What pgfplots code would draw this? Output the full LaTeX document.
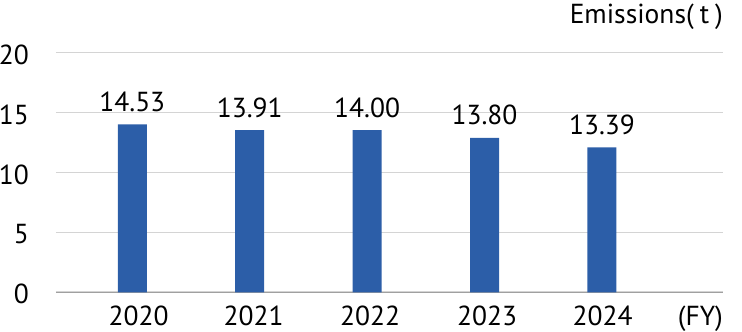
\documentclass[border=0pt]{standalone}
\usepackage{fontspec}
\setmainfont{PT Sans}
\usepackage{pgfplots}
\pgfplotsset{compat=1.18}
\definecolor{barblue}{HTML}{2C5EA8}
\definecolor{gridgray}{HTML}{D4D4D4}
\definecolor{axisgray}{HTML}{A0A0A0}
\newcommand{\lblfont}{\fontsize{27.5pt}{32pt}\selectfont}
\begin{document}
\begin{tikzpicture}
\begin{axis}[
  at={(56pt,39.7pt)}, anchor=south west,
  scale only axis, width=667pt, height=239.6pt,
  xmin=-0.650, xmax=5.031,
  ymin=0, ymax=20,
  ytick={0,5,10,15,20},
  yticklabels={0,5,10,15,20},
  xtick={0.0545,1.0340,2.0247,3.0213,4.0051},
  xticklabels={2020,2021,2022,2023,2024},
  axis lines*=left,
  y axis line style={draw=none},
  x axis line style={draw=axisgray, line width=1.2pt},
  ymajorgrids,
  grid style={draw=gridgray, line width=1.6pt},
  major tick length=0pt,
  tick style={draw=none},
  yticklabel style={font=\lblfont, anchor=east, inner sep=0pt, xshift=-27pt, yshift=-2pt},
  xticklabel style={font=\lblfont, anchor=base, inner sep=0pt, yshift=-33.5pt},
  clip=false,
]
\addplot[ybar, bar width=29pt, fill=barblue, draw=none,
  point meta=explicit symbolic,
  nodes near coords,
  every node near coord/.append style={font=\lblfont, anchor=base, inner sep=0pt, yshift=13pt},
] coordinates {
  (0,14.02) [14.53]
  (1,13.54) [13.91]
  (2,13.54) [14.00]
  (3,12.90) [13.80]
  (4,12.10) [13.39]
};
\node[font=\lblfont, anchor=base east, inner sep=0pt] at (axis description cs:1,1) [yshift=29.4pt] {Emissions(\hspace{6pt}t\hspace{6pt})};
\node[font=\lblfont, anchor=base east, inner sep=0pt] at (axis description cs:1,0) [yshift=-33.5pt] {(FY)};
\end{axis}
\pgfresetboundingbox
\path[use as bounding box] (0,0) rectangle (742pt,332pt);
\end{tikzpicture}
\end{document}
